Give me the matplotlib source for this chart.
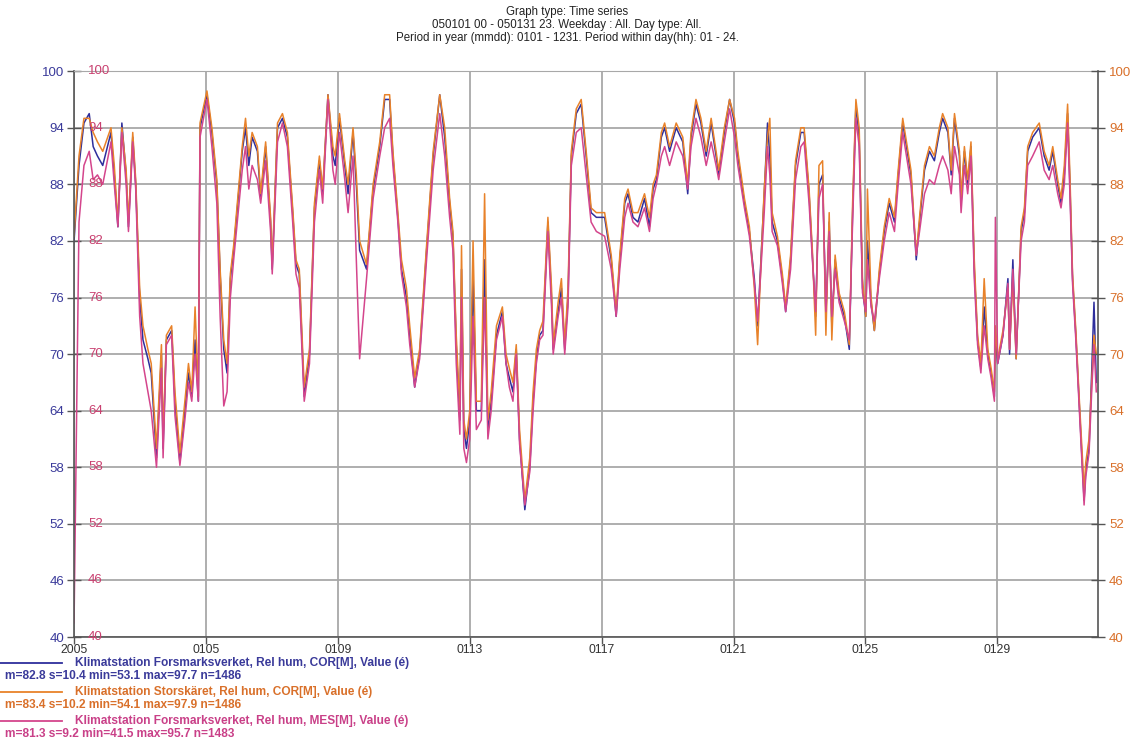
"""Time series of relative humidity, Forsmark, January 2005."""

import matplotlib

matplotlib.use("Agg")

import matplotlib.pyplot as plt  # noqa: E402

plt.rcParams["font.family"] = ["Liberation Sans", "DejaVu Sans"]

# days since 2005-01-01 00:00
DAY = [
    0.0, 0.15, 0.3, 0.46, 0.58, 0.71, 0.87, 1.12, 1.22, 1.33,
    1.45, 1.58, 1.65, 1.78, 1.87, 1.99, 2.09, 2.24, 2.34, 2.5,
    2.65, 2.7, 2.8, 2.96, 3.06, 3.21, 3.36, 3.47, 3.57, 3.67,
    3.77, 3.82, 4.03, 4.18, 4.33, 4.43, 4.54, 4.64, 4.74, 4.84,
    5.1, 5.2, 5.3, 5.4, 5.56, 5.66, 5.81, 5.96, 6.01, 6.17,
    6.32, 6.47, 6.63, 6.73, 6.83, 6.98, 7.14, 7.29, 7.44, 7.54,
    7.7, 7.85, 7.92, 8.05, 8.21, 8.31, 8.46, 8.56, 8.66, 8.87,
    9.07, 9.27, 9.42, 9.57, 9.67, 9.82, 9.93, 10.08, 10.18, 10.33,
    10.48, 10.69, 10.89, 11.09, 11.24, 11.39, 11.49, 11.59, 11.7, 11.75,
    11.82, 11.9, 12.0, 12.1, 12.2, 12.35, 12.45, 12.55, 12.65, 12.81,
    12.99, 13.1, 13.2, 13.31, 13.41, 13.51, 13.67, 13.82, 13.92, 14.02,
    14.12, 14.22, 14.37, 14.48, 14.53, 14.68, 14.78, 14.88, 14.98, 15.08,
    15.23, 15.38, 15.53, 15.68, 15.84, 16.09, 16.29, 16.44, 16.55, 16.7,
    16.8, 16.95, 17.1, 17.3, 17.45, 17.56, 17.66, 17.81, 17.91, 18.06,
    18.26, 18.46, 18.61, 18.71, 18.86, 19.01, 19.17, 19.32, 19.47, 19.55,
    19.72, 19.88, 20.03, 20.13, 20.33, 20.48, 20.63, 20.73, 20.83, 20.93,
    21.03, 21.1, 21.17, 21.33, 21.48, 21.58, 21.73, 21.88, 22.04, 22.14,
    22.29, 22.39, 22.49, 22.59, 22.7, 22.8, 22.9, 22.98, 23.08, 23.2,
    23.36, 23.51, 23.61, 23.71, 23.81, 23.91, 24.01, 24.06, 24.17, 24.27,
    24.42, 24.57, 24.72, 24.88, 24.98, 25.13, 25.29, 25.38, 25.54, 25.64,
    25.79, 25.94, 26.09, 26.24, 26.34, 26.5, 26.6, 26.7, 26.85, 26.9,
    27.0, 27.1, 27.2, 27.3, 27.4, 27.5, 27.6, 27.71, 27.81, 27.91,
    27.94, 28.01, 28.17, 28.32, 28.37, 28.47, 28.57, 28.72, 28.82, 28.92,
    29.07, 29.27, 29.42, 29.57, 29.68, 29.83, 29.93, 30.03, 30.13, 30.2,
    30.28, 30.38, 30.48, 30.58, 30.63, 30.68, 30.78, 30.86, 30.93, 31.0,
]

# Klimatstation Forsmarksverket, Rel hum, COR[M]
RH_FORSMARK_COR = [
    82, 90, 94.5, 95.5, 92, 91, 90, 93.5, 89, 83.5,
    94.5, 89, 83.5, 93, 88, 76, 71.5, 69.5, 68, 59,
    70, 60, 71.5, 72.5, 65, 58.5, 64, 68, 65.5, 71.5,
    65, 94, 97.5, 93.5, 88, 78.5, 70.5, 68, 78, 81,
    91.5, 94, 90, 93, 91.5, 86.5, 92, 84, 79, 94,
    95, 93, 85, 79.5, 78.5, 65.5, 70, 85.5, 90.5, 87,
    97.5, 91, 90, 95, 90, 87, 93.5, 88, 81, 79,
    87.5, 92, 97, 97, 91, 84.5, 79, 76, 72, 66.5,
    70, 81, 91, 97.5, 93, 86, 82.5, 71, 63, 79,
    62, 60, 63, 78, 64, 64, 80, 62, 65, 72,
    74.5, 69, 67.5, 66, 70.5, 61, 53.5, 58, 65, 69.5,
    72, 72.5, 84, 76, 70.5, 74.5, 77, 70.5, 76, 91,
    95.5, 96.5, 91, 85, 84.5, 84.5, 80, 74, 80, 86,
    87, 84.5, 84, 86.5, 83.5, 87.5, 88.5, 93, 94, 91.5,
    94, 92.5, 87, 93, 96.5, 94.5, 91, 94.5, 91, 89,
    93.5, 97, 94.5, 91, 86, 83, 78, 73, 80, 87,
    94.5, 91, 84, 82, 78, 74.5, 80, 90, 93.5, 93.5,
    87, 80.5, 74, 88, 89, 74, 84, 73, 80, 76,
    74, 70.5, 85, 96.5, 93, 77, 74, 82, 75.5, 72.5,
    78.5, 83, 86, 84, 88.5, 94.5, 91, 89, 80, 84,
    89.5, 91.5, 90.5, 93.5, 95, 93.5, 89, 95, 91, 86,
    91.5, 88, 92, 79, 71.5, 68.5, 75, 70, 68, 65.5,
    72, 69, 72, 78, 70, 80, 69.5, 83, 85, 91.5,
    93, 94, 91, 89.5, 91.5, 88, 86, 89, 95.5, 88,
    78, 72, 65, 58, 54.5, 57.5, 60, 68, 75.5, 67,
]

# Klimatstation Storskäret, Rel hum, COR[M]
RH_STORSKARET_COR = [
    82.5, 91, 95, 95, 93.5, 92.5, 91.5, 94, 90, 84,
    94, 89.5, 84, 93.5, 88.5, 77, 73, 70.5, 69, 60,
    71, 61, 72, 73, 66, 59.5, 65, 69, 66, 75,
    65.5, 94.5, 97.9, 94, 88.5, 79, 71.5, 69, 78.5, 81.5,
    92, 95, 91, 93.5, 92, 87, 92.5, 84.5, 79.5, 94.5,
    95.5, 93.5, 85.5, 80, 79, 66.5, 70.5, 86, 91, 87.5,
    97.5, 92, 91, 95.5, 90.5, 88, 94, 89, 82, 79.5,
    88, 92.5, 97.5, 97.5, 91.5, 85, 80, 77, 73, 67.5,
    70.5, 81.5, 91.5, 97.5, 94, 86.5, 83, 72, 64, 81.5,
    63, 61, 64, 82, 65, 65, 87, 63, 66, 73,
    75, 70, 68.5, 67, 71, 62, 54.5, 59, 66, 70.5,
    72.5, 73.5, 84.5, 77, 71, 75.5, 78, 71, 77, 91.5,
    96, 97, 91.5, 85.5, 85, 85, 80.5, 74.5, 80.5, 86.5,
    87.5, 85, 85, 87, 84.5, 88, 89, 93.5, 94.5, 92,
    94.5, 93, 88, 93.5, 97, 95, 91.5, 95, 91.5, 89.5,
    94, 97, 95, 91.5, 86.5, 83.5, 77, 71, 79.5, 87.5,
    93, 95, 85, 82.5, 78.5, 75, 80.5, 90.5, 94, 94,
    87.5, 81, 72, 90, 90.5, 72, 85, 71.5, 80.5, 76.5,
    74.5, 71, 86, 97, 94, 78, 74, 87.5, 76, 72.5,
    79, 83.5, 86.5, 84.5, 89, 95, 91.5, 89.5, 80.5, 84.5,
    90, 92, 91, 94, 95.5, 94, 89.5, 95.5, 91.5, 86.5,
    92, 88.5, 92.5, 80, 72, 69, 78, 70.5, 68.5, 66,
    73, 69.5, 72.5, 77, 70.5, 78, 69.5, 83.5, 85.5, 92,
    93.5, 94.5, 91.5, 90, 92, 88.5, 86.5, 90, 96.5, 89,
    78.5, 72.5, 65.5, 59, 55.5, 58.5, 61, 67, 72, 70,
]

# Klimatstation Forsmarksverket, Rel hum, MES[M]
RH_FORSMARK_MES = [
    41.5, 84, 90, 91.5, 88.5, 89, 88, 92.5, 88, 83.5,
    93.5, 88, 83, 92.5, 87.5, 74, 69, 66, 64, 58,
    68.5, 59, 71, 72, 63.5, 58.2, 63, 67, 65, 70,
    65, 93, 97, 92, 86, 74, 64.5, 66, 76, 80,
    89.5, 92, 87.5, 90, 88.5, 86, 90.5, 83, 78.5, 92.5,
    94.5, 92, 84, 78.5, 77, 65, 69, 84, 89.5, 86,
    97, 89.5, 88, 93.5, 88.5, 85, 91, 80, 69.5, 78,
    86.5, 91, 94, 95, 90, 84, 78.5, 75, 71, 66.5,
    69.5, 80, 89.5, 95.5, 91, 84.5, 81, 69, 61.5, 76,
    60, 58.5, 61, 74, 62, 63, 76, 61, 64, 71.5,
    74, 69, 66.5, 65, 70, 60.5, 54, 57.5, 64, 69,
    71.5, 72, 83, 75, 70, 74, 76, 70, 75, 90,
    93.5, 94, 89, 84, 83, 82.5, 79, 74, 79, 84.5,
    86, 84, 83.5, 85.5, 83, 86.5, 88, 91, 92, 90,
    92.5, 91, 87.5, 92, 95, 93, 90, 92.5, 90, 88.5,
    92.5, 96, 93, 90, 85.5, 82.5, 77.5, 73.5, 79, 85,
    92, 89, 83, 81.5, 77.5, 74.5, 79, 88.5, 92, 92.5,
    86, 80, 74.5, 86.5, 88, 74.5, 83, 74, 79, 75.5,
    73.5, 71.5, 84, 95, 92, 76.5, 74.5, 80, 75, 73.5,
    78, 82, 85, 83, 87.5, 93.5, 90, 88, 80.5, 83,
    87, 88.5, 88, 90, 91, 89.5, 87, 92, 89, 85,
    90, 87, 91, 78, 71, 68, 73, 69.5, 67.5, 65,
    84.5, 69, 72, 77.5, 70.5, 79, 70, 82, 84, 90,
    91, 92.5, 89.5, 88.5, 90, 87, 85.5, 88, 94.5, 87,
    77.5, 71.5, 64.5, 57.5, 54, 57, 59.5, 66, 71, 66,
]

Y_TICKS = [40, 46, 52, 58, 64, 70, 76, 82, 88, 94, 100]
X_TICKS = [0, 4, 8, 12, 16, 20, 24, 28]
X_LABELS = ["2005", "0105", "0109", "0113", "0117", "0121", "0125", "0129"]

SERIES = [
    ("Klimatstation Forsmarksverket, Rel hum, COR[M], Value (é)",
     "m=82.8 s=10.4 min=53.1 max=97.7 n=1486", RH_FORSMARK_COR),
    ("Klimatstation Storskäret, Rel hum, COR[M], Value (é)",
     "m=83.4 s=10.2 min=54.1 max=97.9 n=1486", RH_STORSKARET_COR),
    ("Klimatstation Forsmarksverket, Rel hum, MES[M], Value (é)",
     "m=81.3 s=9.2 min=41.5 max=95.7 n=1483", RH_FORSMARK_MES),
]
LINE_COLORS = ["#2e2e9c", "#e8822a", "#d4458c"]
TEXT_COLORS = ["#3a3a9a", "#d9702a", "#c94088"]

fig = plt.figure(figsize=(11.34, 7.49), dpi=100)
ax = fig.add_axes([0.0653, 0.1495, 0.9029, 0.7555])

for (_, _, values), color in zip(SERIES, LINE_COLORS):
    ax.plot(DAY, values, color=color, linewidth=1.1)

ax.set_xlim(0, 31.05)
ax.set_ylim(40, 100)
ax.set_yticks(Y_TICKS)
ax.set_xticks(X_TICKS)
ax.set_xticklabels(X_LABELS)
ax.grid(True, color="#a8a8a8", linewidth=1.3)
ax.set_axisbelow(True)

ax.tick_params(axis="y", direction="inout", length=10, width=1, colors="#555555",
               labelcolor=TEXT_COLORS[0], labelsize=9.5, pad=2)
ax.tick_params(axis="x", direction="out", length=5, width=1, colors="#555555",
               labelcolor="#333333", labelsize=8.8, pad=0)
for side in ("left", "right", "bottom"):
    ax.spines[side].set_color("#555555")
    ax.spines[side].set_linewidth(1.2)
ax.spines["top"].set_color("#a8a8a8")

# inner left labels for the MES series
for v in Y_TICKS:
    ax.annotate(str(v), xy=(0, v), xytext=(10, 0), textcoords="offset points",
                color="#c94070", fontsize=9.5, va="center", ha="left",
                xycoords=("axes fraction", "data"))

ax_r = ax.twinx()
ax_r.set_ylim(40, 100)
ax_r.set_yticks(Y_TICKS)
ax_r.tick_params(axis="y", direction="inout", length=10, width=1, colors="#555555",
                 labelcolor=TEXT_COLORS[1], labelsize=9.5, pad=3)
for side in ("left", "right", "top", "bottom"):
    ax_r.spines[side].set_visible(False)

fig.text(0.5, 0.992, "Graph type: Time series\n"
         "050101 00 - 050131 23. Weekday : All. Day type: All.\n"
         "Period in year (mmdd): 0101 - 1231. Period within day(hh): 01 - 24.",
         ha="center", va="top", fontsize=8.3, color="#222222", linespacing=1.1)

# legend block at the bottom
y0 = 1 - 663 / 749
step = 29 / 749
for i, ((name, stats, _), lc, tc) in enumerate(zip(SERIES, LINE_COLORS, TEXT_COLORS)):
    y = y0 - i * step
    fig.add_artist(plt.Line2D([0.0, 0.055], [y, y], color=lc, linewidth=1.3,
                              transform=fig.transFigure))
    fig.text(0.066, y, name, color=tc, fontsize=8.6, fontweight="bold",
             va="center", ha="left")
    fig.text(0.004, y - 0.018, stats, color=tc, fontsize=8.6, fontweight="bold",
             va="center", ha="left")

fig.savefig("out.png", dpi=100)
